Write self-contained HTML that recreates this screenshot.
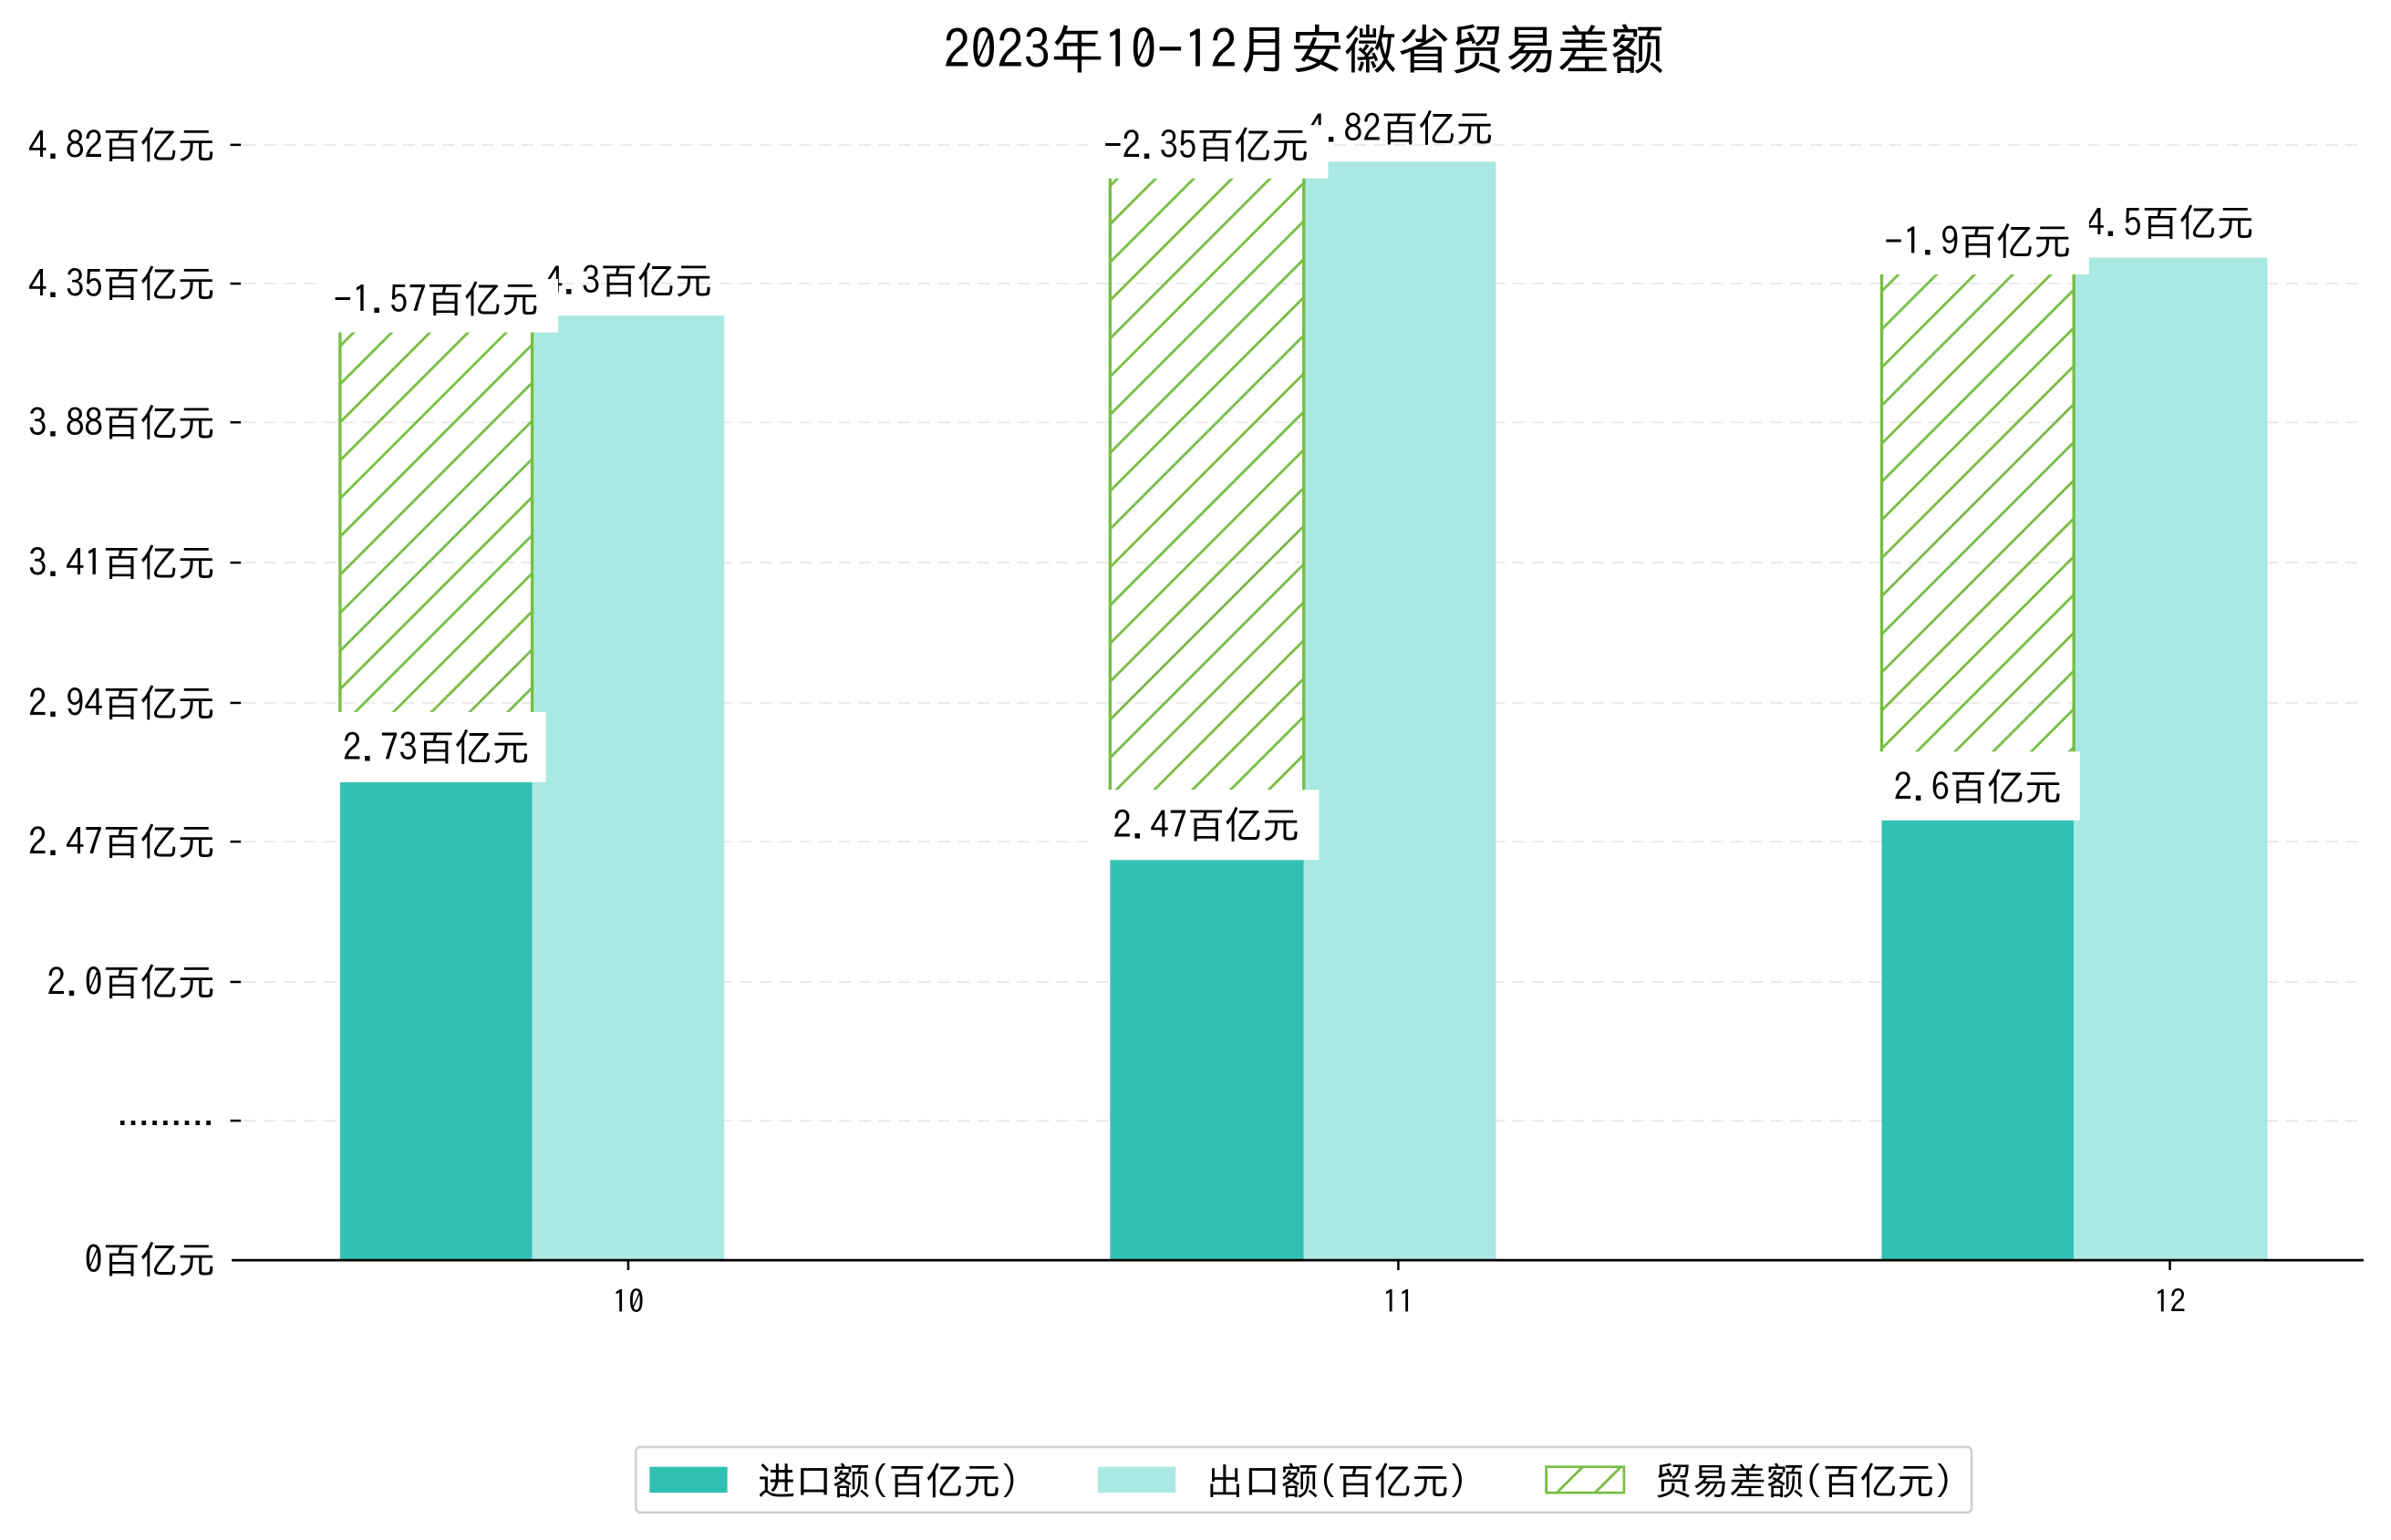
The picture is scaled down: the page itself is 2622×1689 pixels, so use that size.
<!DOCTYPE html>
<html><head><meta charset="utf-8"><style>
html,body{margin:0;padding:0;background:#fff;}
svg{display:block;}
text{font-family:"IPAGothic","WenQuanYi Zen Hei","Noto Sans CJK SC",sans-serif;fill:#000;}
</style></head><body>
<svg width="2622" height="1689" viewBox="0 0 1568 1010" preserveAspectRatio="none" xmlns="http://www.w3.org/2000/svg">
<defs>
<pattern id="h" patternUnits="userSpaceOnUse" width="25" height="25">
<path d="M-5,5 L5,-5 M0,25 L25,0 M20,30 L30,20" stroke="#77bd44" stroke-width="1.7"/>
</pattern>
</defs>
<text x="855" y="45" font-size="35" text-anchor="middle">2023年10-12月安徽省贸易差额</text>
<g stroke="#eaeaea" stroke-width="1.2" stroke-dasharray="8,5">
<line x1="160" x2="1550" y1="95" y2="95"/><line x1="160" x2="1550" y1="186" y2="186"/>
<line x1="160" x2="1550" y1="277" y2="277"/><line x1="160" x2="1550" y1="369" y2="369"/>
<line x1="160" x2="1550" y1="461" y2="461"/><line x1="160" x2="1550" y1="552" y2="552"/>
<line x1="160" x2="1550" y1="644" y2="644"/><line x1="160" x2="1550" y1="735" y2="735"/>
</g>
<g stroke="#000" stroke-width="1.5">
<line x1="151" x2="158" y1="95" y2="95"/><line x1="151" x2="158" y1="186" y2="186"/>
<line x1="151" x2="158" y1="277" y2="277"/><line x1="151" x2="158" y1="369" y2="369"/>
<line x1="151" x2="158" y1="461" y2="461"/><line x1="151" x2="158" y1="552" y2="552"/>
<line x1="151" x2="158" y1="644" y2="644"/><line x1="151" x2="158" y1="735" y2="735"/>
</g>
<g font-size="24.5" text-anchor="end">
<text x="141" y="104">4.82百亿元</text><text x="141" y="195">4.35百亿元</text>
<text x="141" y="286">3.88百亿元</text><text x="141" y="378">3.41百亿元</text>
<text x="141" y="470">2.94百亿元</text><text x="141" y="561">2.47百亿元</text>
<text x="141" y="653">2.0百亿元</text>
<text x="141" y="835">0百亿元</text>
</g>
<text x="141" y="738" font-size="20" text-anchor="end" style="font-family:'Liberation Sans',sans-serif;font-weight:bold;letter-spacing:1.5px">.........</text>
<rect x="223" y="513" width="126" height="313" fill="#31c0b4"/>
<rect x="349" y="207" width="126" height="619" fill="#aae8e2"/>
<rect x="728" y="564" width="127" height="262" fill="#31c0b4"/>
<rect x="855" y="106" width="126" height="720" fill="#aae8e2"/>
<rect x="1234" y="538" width="126" height="288" fill="#31c0b4"/>
<rect x="1360" y="169" width="127" height="657" fill="#aae8e2"/>
<rect x="223" y="218" width="126" height="249" fill="url(#h)"/>
<rect x="728" y="117" width="127" height="401" fill="url(#h)"/>
<rect x="1234" y="180" width="126" height="313" fill="url(#h)"/>
<g stroke="#77bd44" stroke-width="2">
<line x1="223" x2="223" y1="218" y2="467"/><line x1="349" x2="349" y1="218" y2="467"/>
<line x1="728" x2="728" y1="117" y2="518"/><line x1="855" x2="855" y1="117" y2="518"/>
<line x1="1234" x2="1234" y1="180" y2="493"/><line x1="1360" x2="1360" y1="180" y2="493"/>
</g>
<g font-size="24.5" text-anchor="middle">
<text x="412" y="193">4.3百亿元</text>
<text x="918" y="93">4.82百亿元</text>
<text x="1423" y="155">4.5百亿元</text>
</g>
<g fill="#fff">
<rect x="210" y="183" width="156" height="35"/><rect x="212" y="467" width="146" height="46"/>
<rect x="715" y="82" width="156" height="35"/><rect x="715" y="518" width="150" height="46"/>
<rect x="1222" y="145" width="148" height="35"/><rect x="1222" y="493" width="142" height="45"/>
</g>
<g font-size="24.5" text-anchor="middle">
<text x="286" y="205">-1.57百亿元</text><text x="286" y="499">2.73百亿元</text>
<text x="791" y="104">-2.35百亿元</text><text x="791" y="550">2.47百亿元</text>
<text x="1297" y="167">-1.9百亿元</text><text x="1297" y="525">2.6百亿元</text>
</g>
<line x1="152" x2="1550" y1="826.5" y2="826.5" stroke="#000" stroke-width="1.6"/>
<g stroke="#000" stroke-width="1.5">
<line x1="412" x2="412" y1="826" y2="833"/><line x1="917" x2="917" y1="826" y2="833"/><line x1="1423" x2="1423" y1="826" y2="833"/>
</g>
<g font-size="21" text-anchor="middle">
<text x="412" y="861">10</text><text x="917" y="861">11</text><text x="1423" y="861">12</text>
</g>
<rect x="417" y="949" width="876" height="43" rx="3" fill="#fff" stroke="#d0d0d0" stroke-width="1.5"/>
<rect x="426" y="962" width="51" height="17" fill="#31c0b4"/>
<text x="497" y="980" font-size="24.5">进口额(百亿元)</text>
<rect x="720" y="962" width="51" height="17" fill="#aae8e2"/>
<text x="791" y="980" font-size="24.5">出口额(百亿元)</text>
<rect x="1014" y="962" width="51" height="17" fill="url(#h)" stroke="#77bd44" stroke-width="1.6"/>
<text x="1085" y="980" font-size="24.5">贸易差额(百亿元)</text>
</svg>
</body></html>
